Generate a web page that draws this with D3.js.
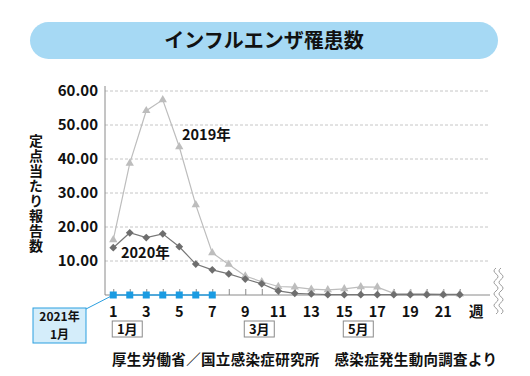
<!DOCTYPE html>
<html>
<head>
<meta charset="utf-8">
<script src="https://cdn.jsdelivr.net/npm/d3@7"></script>
<style>
  body { margin: 0; background: #fff; }
  svg { display: block; font-family: "Noto Sans CJK JP", "Noto Sans", sans-serif; }
</style>
</head>
<body>
<div id="chart"></div>
<script>
const weeks = d3.range(1, 23);
const values2019 = [16.2, 38.7, 54.2, 57.4, 43.6, 26.5, 12.4, 9.0, 5.6, 3.9, 2.5, 2.3, 1.7, 1.5, 1.8, 2.4, 2.3, 0.5, 0.4, 0.4, 0.3, 0.3];
const values2020 = [13.9, 18.3, 16.9, 18.0, 14.2, 9.1, 7.4, 6.2, 4.7, 3.3, 1.2, 0.5, 0.3, 0.1, 0.1, 0.1, 0.1, 0.1, 0.1, 0.1, 0.1, 0.1];
const weeks2021 = d3.range(1, 8);
const values2021 = [0, 0, 0, 0, 0, 0, 0];
const yTicks = [10, 20, 30, 40, 50, 60];
const xTickLabels = [1, 3, 5, 7, 9, 11, 13, 15, 17, 19, 21];
const monthMarks = [{ week: 1, text: '1月' }, { week: 9, text: '3月' }, { week: 15, text: '5月' }];

const width = 530, height = 376;
const svg = d3.select('#chart').append('svg')
  .attr('width', width)
  .attr('height', height);

// title pill
svg.append('rect')
  .attr('x', 30).attr('y', 22).attr('width', 468).attr('height', 37)
  .attr('rx', 18.5).attr('fill', '#a6d9f4');
svg.append('text')
  .attr('x', 264).attr('y', 41).attr('dy', '0.36em')
  .attr('text-anchor', 'middle')
  .attr('font-size', 20).attr('font-weight', 'bold')
  .attr('fill', '#111')
  .text('インフルエンザ罹患数');

const x = d3.scaleLinear().domain([0.5, 23.83]).range([105, 490]);
const y = d3.scaleLinear().domain([0, 60]).range([295, 91]);

// grid
svg.append('g').selectAll('line').data(yTicks).enter()
  .append('line')
    .attr('x1', 105).attr('x2', 490)
    .attr('y1', d => y(d)).attr('y2', d => y(d))
    .attr('stroke', '#b8b8b8').attr('stroke-width', 0.8)
    .attr('stroke-dasharray', '3,2');

// y axis
const yAxis = d3.axisLeft(y).tickValues(yTicks).tickSize(0).tickPadding(7).tickFormat(d3.format('.2f'));
svg.append('g')
  .attr('transform', 'translate(105,0)')
  .call(yAxis)
  .call(g => g.select('.domain').attr('stroke', '#8a8a8a').attr('d', 'M0,295V86'))
  .call(g => g.selectAll('text').attr('font-size', 15).attr('font-weight', 'bold')
    .attr('fill', '#111').attr('font-family', '"Noto Sans CJK JP", sans-serif'));

// y title (vertical)
svg.append('text')
  .attr('x', 36).attr('y', 134)
  .attr('font-size', 14).attr('font-weight', 'bold').attr('fill', '#111')
  .style('writing-mode', 'vertical-rl')
  .style('letter-spacing', '1px')
  .text('定点当たり報告数');

// x axis
const xAxis = d3.axisBottom(x).tickValues(weeks).tickSize(-6).tickFormat('');
svg.append('g')
  .attr('transform', 'translate(0,295)')
  .call(xAxis)
  .call(g => g.select('.domain').attr('stroke', '#8a8a8a').attr('d', 'M105,0H490'))
  .call(g => g.selectAll('.tick line').attr('stroke', '#8a8a8a'));

svg.append('g').selectAll('text').data(xTickLabels).enter()
  .append('text')
    .attr('x', d => x(d)).attr('y', 312).attr('dy', '0.36em')
    .attr('text-anchor', 'middle')
    .attr('font-size', 14.5).attr('font-weight', 'bold').attr('fill', '#111')
    .text(d => d);
svg.append('text')
  .attr('x', x(23)).attr('y', 312).attr('dy', '0.36em')
  .attr('text-anchor', 'middle')
  .attr('font-size', 14.5).attr('font-weight', 'bold').attr('fill', '#111')
  .text('週');

// axis break squiggle
const squiggle = (x0) => {
  let d = `M${x0},268`;
  for (let i = 0; i < 4; i++) {
    const yy = 268 + i * 11.5;
    d += `Q${x0 - 4},${yy + 2.9} ${x0},${yy + 5.75} Q${x0 + 4},${yy + 8.6} ${x0},${yy + 11.5}`;
  }
  return d;
};
[496, 501].forEach(x0 => {
  svg.append('path').attr('d', squiggle(x0))
    .attr('fill', 'none').attr('stroke', '#9a9a9a').attr('stroke-width', 1);
});

// lines
const line = d3.line().x(d => x(d[0])).y(d => y(d[1]));
const data2019 = weeks.map((w, i) => [w, values2019[i]]);
const data2020 = weeks.map((w, i) => [w, values2020[i]]);
const data2021 = weeks2021.map((w, i) => [w, values2021[i]]);

svg.append('path').datum(data2019)
  .attr('d', line).attr('fill', 'none').attr('stroke', '#bdbdbd').attr('stroke-width', 1.2);
svg.append('g').selectAll('path').data(data2019).enter()
  .append('path')
    .attr('transform', d => `translate(${x(d[0])},${y(d[1])})`)
    .attr('d', d3.symbol(d3.symbolTriangle, 30))
    .attr('fill', '#bdbdbd');

svg.append('path').datum(data2020)
  .attr('d', line).attr('fill', 'none').attr('stroke', '#777').attr('stroke-width', 1.2);
svg.append('g').selectAll('path').data(data2020).enter()
  .append('path')
    .attr('transform', d => `translate(${x(d[0])},${y(d[1])}) rotate(45)`)
    .attr('d', d3.symbol(d3.symbolSquare, 30))
    .attr('fill', '#6e6e6e');

// 2021 callout
svg.append('line')
  .attr('x1', 86).attr('y1', 309).attr('x2', x(1)).attr('y2', y(0))
  .attr('stroke', '#2b9fe0').attr('stroke-width', 1);
svg.append('rect')
  .attr('x', 33).attr('y', 308).attr('width', 53).attr('height', 35)
  .attr('fill', '#d4edfa').attr('stroke', '#2b9fe0').attr('stroke-width', 1);
svg.append('text')
  .attr('x', 59.5).attr('y', 317).attr('dy', '0.36em')
  .attr('text-anchor', 'middle')
  .attr('font-size', 12).attr('font-weight', 'bold').attr('fill', '#111')
  .text('2021年');
svg.append('text')
  .attr('x', 59.5).attr('y', 335).attr('dy', '0.36em')
  .attr('text-anchor', 'middle')
  .attr('font-size', 12).attr('font-weight', 'bold').attr('fill', '#111')
  .text('1月');

svg.append('path').datum(data2021)
  .attr('d', line).attr('fill', 'none').attr('stroke', '#2b9fe0').attr('stroke-width', 1.5);
svg.append('g').selectAll('rect').data(data2021).enter()
  .append('rect')
    .attr('x', d => x(d[0]) - 3.5).attr('y', d => y(d[1]) - 3.5)
    .attr('width', 7).attr('height', 7)
    .attr('fill', '#1a9be2');

// series labels
svg.append('text')
  .attr('x', 182).attr('y', 135).attr('dy', '0.36em')
  .attr('font-size', 14.5).attr('font-weight', 'bold').attr('fill', '#111')
  .text('2019年');
svg.append('text')
  .attr('x', 121).attr('y', 253).attr('dy', '0.36em')
  .attr('font-size', 14.5).attr('font-weight', 'bold').attr('fill', '#111')
  .text('2020年');

// month boxes
const months = svg.append('g').selectAll('g').data(monthMarks).enter()
  .append('g')
    .attr('transform', d => `translate(${x(d.week) - 1},321)`);
months.append('rect')
  .attr('width', 30).attr('height', 16)
  .attr('fill', '#fff').attr('stroke', '#8a8a8a').attr('stroke-width', 1);
months.append('text')
  .attr('x', 15).attr('y', 8).attr('dy', '0.36em')
  .attr('text-anchor', 'middle')
  .attr('font-size', 13).attr('font-weight', 'bold').attr('fill', '#111')
  .text(d => d.text);

// source
svg.append('text')
  .attr('x', 112).attr('y', 360).attr('dy', '0.36em')
  .attr('font-size', 14.5).attr('font-weight', 'bold').attr('fill', '#111')
  .attr('textLength', 385)
  .text('厚生労働省／国立感染症研究所　感染症発生動向調査より');
</script>
</body>
</html>
